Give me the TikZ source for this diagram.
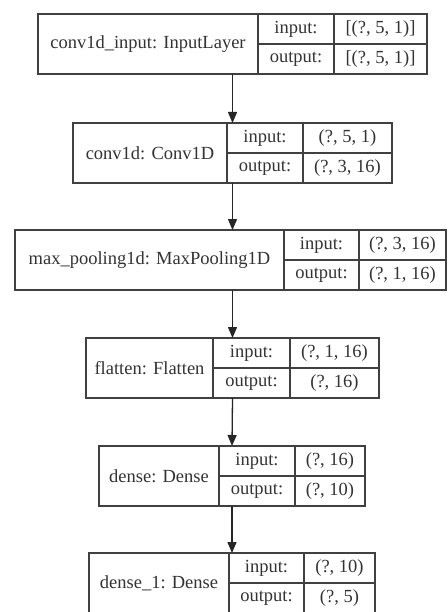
\documentclass[tikz,border=0pt]{standalone}
\usepackage{fontspec}
\setmainfont{Liberation Serif}
\usetikzlibrary{arrows.meta}
\tikzset{
  box/.style={draw=black!75, line width=1.3pt, fill=white, inner sep=0pt, outer sep=0pt},
  rule/.style={draw=black!75, line width=1.3pt},
  txt/.style={text=black!80, inner sep=0pt, font=\fontsize{18.5}{21}\selectfont},
  arr/.style={draw=black!85, line width=1.3pt, -{Triangle[length=11pt,width=9pt]}}
}
\newcommand{\kbox}[9]{%
  \pgfmathsetmacro\ym{(#4+#5)/2}%
  \pgfmathsetmacro\xa{(#2+#6)/2}%
  \pgfmathsetmacro\xb{(#6+#7)/2}%
  \pgfmathsetmacro\xc{(#7+#3)/2}%
  \pgfmathsetmacro\yi{(#4+\ym)/2}%
  \pgfmathsetmacro\yo{(\ym+#5)/2}%
  \node[box, anchor=north west, minimum width={(#3-#2)*1pt}, minimum height={(#5-#4)*1pt}] (#1) at (#2,#4) {};
  \draw[rule] (#6,#4) -- (#6,#5);
  \draw[rule] (#7,#4) -- (#7,#5);
  \draw[rule] (#6,\ym) -- (#3,\ym);
  \node[txt] (#1-lab) at (\xa,\ym) {#8};
  \node[txt] (#1-in) at (\xb,\yi) {input:};
  \node[txt] (#1-out) at (\xb,\yo) {output:};
  \node[txt] (#1-iv) at (\xc,\yi) {#9};
}
\begin{document}
\begin{tikzpicture}[x=1pt,y=-1pt]
\fill[white] (0,0) rectangle (447,612);
\useasboundingbox (0,0) rectangle (447,612);
\clip (0,0) rectangle (447,612);

\kbox{b1}{38}{427}{14}{74}{258}{334}{conv1d\_input: InputLayer}{[(?, 5, 1)]}
\node[txt] (b1-ov) at (\xc,\yo) {[(?, 5, 1)]};

\kbox{b2}{73}{392}{123}{183}{227}{303}{conv1d: Conv1D}{(?, 5, 1)}
\node[txt] (b2-ov) at (\xc,\yo) {(?, 3, 16)};

\kbox{b3}{15}{446}{230}{290}{284}{359}{max\_pooling1d: MaxPooling1D}{(?, 3, 16)}
\node[txt] (b3-ov) at (\xc,\yo) {(?, 1, 16)};

\kbox{b4}{86}{379}{338}{398}{213}{290}{flatten: Flatten}{(?, 1, 16)}
\node[txt] (b4-ov) at (\xc,\yo) {(?, 16)};

\kbox{b5}{99}{365}{446}{506}{219}{295}{dense: Dense}{(?, 16)}
\node[txt] (b5-ov) at (\xc,\yo) {(?, 10)};

\kbox{b6}{89}{375}{553}{613}{229}{304}{dense\_1: Dense}{(?, 10)}
\node[txt] (b6-ov) at (\xc,\yo) {(?, 5)};

\draw[arr] (b1.south) -- (b2.north);
\draw[arr] (b2.south) -- (b2.south |- b3.north);
\draw[arr] (b3.south -| b4.north) -- (b4.north);
\draw[arr] (b4.south) -- (b5.north);
\draw[arr] (b5.south) -- (b5.south |- b6.north);
\end{tikzpicture}
\end{document}
